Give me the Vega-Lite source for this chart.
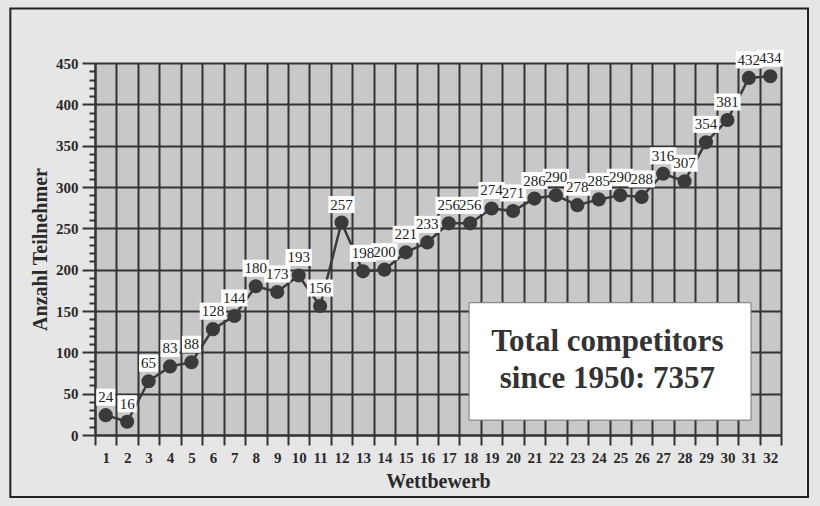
{
  "$schema": "https://vega.github.io/schema/vega-lite/v6.json",
  "autosize": "none",
  "width": 686,
  "height": 372,
  "padding": {"left": 95, "top": 63, "right": 39, "bottom": 71},
  "background": "#e6e6e6",
  "config": {
    "view": {"fill": "#c8c8c8", "stroke": null},
    "font": "Liberation Serif"
  },
  "data": {
    "values": [
      {"n": 1, "v": 24}, {"n": 2, "v": 16}, {"n": 3, "v": 65}, {"n": 4, "v": 83},
      {"n": 5, "v": 88}, {"n": 6, "v": 128}, {"n": 7, "v": 144}, {"n": 8, "v": 180},
      {"n": 9, "v": 173}, {"n": 10, "v": 193}, {"n": 11, "v": 156}, {"n": 12, "v": 257},
      {"n": 13, "v": 198}, {"n": 14, "v": 200}, {"n": 15, "v": 221}, {"n": 16, "v": 233},
      {"n": 17, "v": 256}, {"n": 18, "v": 256}, {"n": 19, "v": 274}, {"n": 20, "v": 271},
      {"n": 21, "v": 286}, {"n": 22, "v": 290}, {"n": 23, "v": 278}, {"n": 24, "v": 285},
      {"n": 25, "v": 290}, {"n": 26, "v": 288}, {"n": 27, "v": 316}, {"n": 28, "v": 307},
      {"n": 29, "v": 354}, {"n": 30, "v": 381}, {"n": 31, "v": 432}, {"n": 32, "v": 434}
    ]
  },
  "encoding": {
    "x": {
      "field": "n", "type": "quantitative",
      "scale": {"domain": [0.5, 32.5], "nice": false, "zero": false},
      "axis": {
        "title": "Wettbewerb",
        "titleFont": "Liberation Serif", "titleFontSize": 20, "titleFontWeight": "bold",
        "titleColor": "#2a2a2a", "titlePadding": 6,
        "values": [0.5,1,1.5,2,2.5,3,3.5,4,4.5,5,5.5,6,6.5,7,7.5,8,8.5,9,9.5,10,10.5,11,11.5,12,12.5,13,13.5,14,14.5,15,15.5,16,16.5,17,17.5,18,18.5,19,19.5,20,20.5,21,21.5,22,22.5,23,23.5,24,24.5,25,25.5,26,26.5,27,27.5,28,28.5,29,29.5,30,30.5,31,31.5,32,32.5],
        "labelExpr": "datum.value % 1 === 0 ? format(datum.value, 'd') : ''",
        "labelOverlap": false, "labelFlush": false,
        "labelFont": "Liberation Serif", "labelFontSize": 15, "labelFontWeight": "bold",
        "labelColor": "#2a2a2a", "labelPadding": 5,
        "tickSize": 10, "tickWidth": 2, "tickColor": "#333333",
        "tickOpacity": {"condition": {"test": "datum.value % 1 !== 0", "value": 1}, "value": 0},
        "grid": true, "gridColor": "#333333", "gridWidth": 2,
        "gridOpacity": {"condition": {"test": "datum.value % 1 !== 0", "value": 1}, "value": 0},
        "domainColor": "#333333", "domainWidth": 2
      }
    },
    "y": {
      "field": "v", "type": "quantitative",
      "scale": {"domain": [0, 450], "nice": false},
      "axis": {
        "title": "Anzahl Teilnehmer",
        "titleFont": "Liberation Serif", "titleFontSize": 20, "titleFontWeight": "bold",
        "titleColor": "#2a2a2a", "titlePadding": 5,
        "values": [0,10,20,30,40,50,60,70,80,90,100,110,120,130,140,150,160,170,180,190,200,210,220,230,240,250,260,270,280,290,300,310,320,330,340,350,360,370,380,390,400,410,420,430,440,450],
        "labelExpr": "datum.value % 50 === 0 ? datum.label : ''",
        "labelOverlap": false, "labelFlush": false,
        "labelFont": "Liberation Serif", "labelFontSize": 15, "labelFontWeight": "bold",
        "labelColor": "#2a2a2a", "labelPadding": 4,
        "tickSize": {"condition": {"test": "datum.value % 50 !== 0", "value": 6}, "value": 13},
        "tickWidth": 2, "tickColor": "#333333",
        "grid": true, "gridColor": "#333333", "gridWidth": 2,
        "gridOpacity": {"condition": {"test": "datum.value % 50 === 0", "value": 1}, "value": 0},
        "domainColor": "#333333", "domainWidth": 2
      }
    }
  },
  "layer": [
    {
      "transform": [{"filter": "datum.n === 1"}],
      "mark": {"type": "rect", "fill": null, "fillOpacity": 0, "stroke": "#222222", "strokeWidth": 2},
      "encoding": {
        "x": {"datum": -3.45}, "x2": {"datum": 33.76},
        "y": {"datum": 516}, "y2": {"datum": -75}
      }
    },
    {
      "mark": {"type": "line", "color": "#3a3a3a", "strokeWidth": 2.5}
    },
    {
      "mark": {"type": "point", "filled": true, "color": "#3a3a3a", "size": 200, "opacity": 1}
    },
    {
      "mark": {"type": "point", "filled": true, "color": "#ffffff", "size": 289, "opacity": 1, "yOffset": -18},
      "encoding": {
        "shape": {"condition": {"test": "datum.v < 100", "value": "M-1.12,-1H1.12V1H-1.12Z"}, "value": "M-1.55,-1H1.55V1H-1.55Z"}
      }
    },
    {
      "mark": {"type": "text", "font": "Liberation Serif", "fontSize": 15, "color": "#222222", "dy": -18, "baseline": "middle", "align": "center"},
      "encoding": {"text": {"field": "v", "type": "quantitative"}}
    },
    {
      "transform": [{"filter": "datum.n === 1"}],
      "mark": {"type": "rect", "fill": "#ffffff", "stroke": "#777777", "strokeWidth": 1},
      "encoding": {
        "x": {"datum": 17.95}, "x2": {"datum": 31.1},
        "y": {"datum": 160}, "y2": {"datum": 18}
      }
    },
    {
      "transform": [{"filter": "datum.n === 1"}],
      "mark": {"type": "text", "font": "Liberation Serif", "fontSize": 31, "fontWeight": "bold", "color": "#333333", "align": "center", "baseline": "middle", "lineHeight": 37},
      "encoding": {
        "x": {"datum": 24.4}, "y": {"datum": 112.5},
        "text": {"value": ["Total competitors", "since 1950: 7357"]}
      }
    }
  ]
}
